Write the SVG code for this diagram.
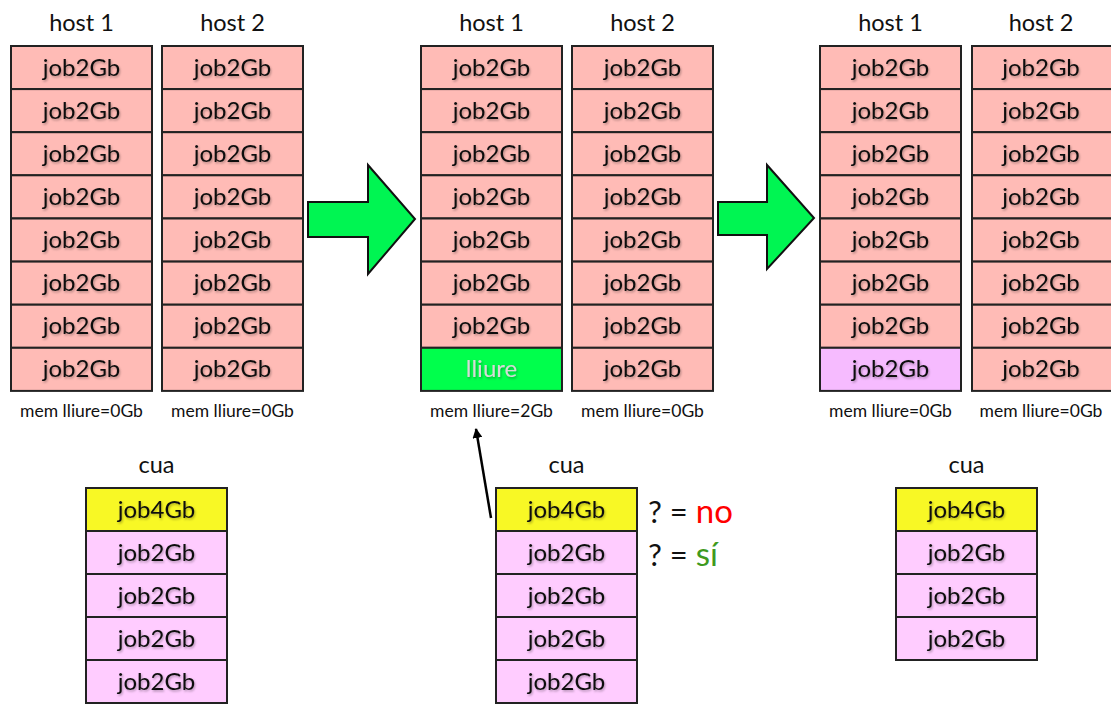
<svg xmlns="http://www.w3.org/2000/svg" width="1111" height="705" viewBox="0 0 1111 705">
<defs>
<filter id="sh" x="-10%" y="-20%" width="130%" height="150%">
<feDropShadow dx="1" dy="1.5" stdDeviation="1.2" flood-color="#000" flood-opacity="0.3"/>
</filter>
<marker id="ah" viewBox="0 0 10 10" refX="9" refY="5" markerWidth="10" markerHeight="10" markerUnits="userSpaceOnUse" orient="auto">
<path d="M0,0 L10,5 L0,10 z" fill="#000"/>
</marker>
</defs>
<style>
.c rect{stroke:#222;stroke-width:2}
.r{fill:#FFBBB6}
.q{fill:#FFCCFF}
.y{fill:#F8F825}
.v{fill:#F6BBFF}
.g{fill:#00FF4C}
.t{font-family:Lato,"Open Sans",sans-serif;font-size:24px;fill:#111;text-anchor:middle;filter:url(#sh)}
.tl{fill:#D8D8D8}
.h{font-family:Lato,"Open Sans",sans-serif;font-size:23.5px;fill:#111;text-anchor:middle}
.m{font-family:Lato,"Open Sans",sans-serif;font-size:17.5px;fill:#111;text-anchor:middle}
.big{font-family:Lato,"Open Sans",sans-serif;font-size:31px;fill:#111}
.arr{fill:#00F552;stroke:#111;stroke-width:2;stroke-linejoin:miter}
</style>

<!-- labels -->
<g id="labels">
<text class="h" x="81.5" y="31">host 1</text>
<text class="h" x="232.5" y="31">host 2</text>
<text class="h" x="491.5" y="31">host 1</text>
<text class="h" x="642.5" y="31">host 2</text>
<text class="h" x="890.5" y="31">host 1</text>
<text class="h" x="1041" y="31">host 2</text>
<text class="m" x="81.5" y="417">mem lliure=0Gb</text>
<text class="m" x="232.5" y="417">mem lliure=0Gb</text>
<text class="m" x="491.5" y="417">mem lliure=2Gb</text>
<text class="m" x="642.5" y="417">mem lliure=0Gb</text>
<text class="m" x="890.5" y="417">mem lliure=0Gb</text>
<text class="m" x="1041" y="417">mem lliure=0Gb</text>
<text class="h" x="156.5" y="473">cua</text>
<text class="h" x="566.5" y="473">cua</text>
<text class="h" x="966.5" y="473">cua</text>
</g>

<!-- state 1 host 1 -->
<g id="s1h1" class="c">
<rect class="r" x="11" y="46" width="141" height="43.1"/><text class="t" x="81.5" y="75.5">job2Gb</text>
<rect class="r" x="11" y="89.1" width="141" height="43.1"/><text class="t" x="81.5" y="118.6">job2Gb</text>
<rect class="r" x="11" y="132.2" width="141" height="43.1"/><text class="t" x="81.5" y="161.7">job2Gb</text>
<rect class="r" x="11" y="175.3" width="141" height="43.1"/><text class="t" x="81.5" y="204.8">job2Gb</text>
<rect class="r" x="11" y="218.5" width="141" height="43.1"/><text class="t" x="81.5" y="248">job2Gb</text>
<rect class="r" x="11" y="261.6" width="141" height="43.1"/><text class="t" x="81.5" y="291.1">job2Gb</text>
<rect class="r" x="11" y="304.7" width="141" height="43.1"/><text class="t" x="81.5" y="334.2">job2Gb</text>
<rect class="r" x="11" y="347.8" width="141" height="43.1"/><text class="t" x="81.5" y="377.3">job2Gb</text>
</g>
<!-- state 1 host 2 -->
<g id="s1h2" class="c">
<rect class="r" x="162" y="46" width="141" height="43.1"/><text class="t" x="232.5" y="75.5">job2Gb</text>
<rect class="r" x="162" y="89.1" width="141" height="43.1"/><text class="t" x="232.5" y="118.6">job2Gb</text>
<rect class="r" x="162" y="132.2" width="141" height="43.1"/><text class="t" x="232.5" y="161.7">job2Gb</text>
<rect class="r" x="162" y="175.3" width="141" height="43.1"/><text class="t" x="232.5" y="204.8">job2Gb</text>
<rect class="r" x="162" y="218.5" width="141" height="43.1"/><text class="t" x="232.5" y="248">job2Gb</text>
<rect class="r" x="162" y="261.6" width="141" height="43.1"/><text class="t" x="232.5" y="291.1">job2Gb</text>
<rect class="r" x="162" y="304.7" width="141" height="43.1"/><text class="t" x="232.5" y="334.2">job2Gb</text>
<rect class="r" x="162" y="347.8" width="141" height="43.1"/><text class="t" x="232.5" y="377.3">job2Gb</text>
</g>
<!-- state 2 host 1 -->
<g id="s2h1" class="c">
<rect class="r" x="421" y="46" width="141" height="43.1"/><text class="t" x="491.5" y="75.5">job2Gb</text>
<rect class="r" x="421" y="89.1" width="141" height="43.1"/><text class="t" x="491.5" y="118.6">job2Gb</text>
<rect class="r" x="421" y="132.2" width="141" height="43.1"/><text class="t" x="491.5" y="161.7">job2Gb</text>
<rect class="r" x="421" y="175.3" width="141" height="43.1"/><text class="t" x="491.5" y="204.8">job2Gb</text>
<rect class="r" x="421" y="218.5" width="141" height="43.1"/><text class="t" x="491.5" y="248">job2Gb</text>
<rect class="r" x="421" y="261.6" width="141" height="43.1"/><text class="t" x="491.5" y="291.1">job2Gb</text>
<rect class="r" x="421" y="304.7" width="141" height="43.1"/><text class="t" x="491.5" y="334.2">job2Gb</text>
<rect class="g" x="421" y="347.8" width="141" height="43.1"/><text class="t tl" x="491.5" y="377.3">lliure</text>
</g>
<!-- state 2 host 2 -->
<g id="s2h2" class="c">
<rect class="r" x="572" y="46" width="141" height="43.1"/><text class="t" x="642.5" y="75.5">job2Gb</text>
<rect class="r" x="572" y="89.1" width="141" height="43.1"/><text class="t" x="642.5" y="118.6">job2Gb</text>
<rect class="r" x="572" y="132.2" width="141" height="43.1"/><text class="t" x="642.5" y="161.7">job2Gb</text>
<rect class="r" x="572" y="175.3" width="141" height="43.1"/><text class="t" x="642.5" y="204.8">job2Gb</text>
<rect class="r" x="572" y="218.5" width="141" height="43.1"/><text class="t" x="642.5" y="248">job2Gb</text>
<rect class="r" x="572" y="261.6" width="141" height="43.1"/><text class="t" x="642.5" y="291.1">job2Gb</text>
<rect class="r" x="572" y="304.7" width="141" height="43.1"/><text class="t" x="642.5" y="334.2">job2Gb</text>
<rect class="r" x="572" y="347.8" width="141" height="43.1"/><text class="t" x="642.5" y="377.3">job2Gb</text>
</g>
<!-- state 3 host 1 -->
<g id="s3h1" class="c">
<rect class="r" x="820" y="46" width="141" height="43.1"/><text class="t" x="890.5" y="75.5">job2Gb</text>
<rect class="r" x="820" y="89.1" width="141" height="43.1"/><text class="t" x="890.5" y="118.6">job2Gb</text>
<rect class="r" x="820" y="132.2" width="141" height="43.1"/><text class="t" x="890.5" y="161.7">job2Gb</text>
<rect class="r" x="820" y="175.3" width="141" height="43.1"/><text class="t" x="890.5" y="204.8">job2Gb</text>
<rect class="r" x="820" y="218.5" width="141" height="43.1"/><text class="t" x="890.5" y="248">job2Gb</text>
<rect class="r" x="820" y="261.6" width="141" height="43.1"/><text class="t" x="890.5" y="291.1">job2Gb</text>
<rect class="r" x="820" y="304.7" width="141" height="43.1"/><text class="t" x="890.5" y="334.2">job2Gb</text>
<rect class="v" x="820" y="347.8" width="141" height="43.1"/><text class="t" x="890.5" y="377.3">job2Gb</text>
</g>
<!-- state 3 host 2 -->
<g id="s3h2" class="c">
<rect class="r" x="972" y="46" width="141" height="43.1"/><text class="t" x="1041" y="75.5">job2Gb</text>
<rect class="r" x="972" y="89.1" width="141" height="43.1"/><text class="t" x="1041" y="118.6">job2Gb</text>
<rect class="r" x="972" y="132.2" width="141" height="43.1"/><text class="t" x="1041" y="161.7">job2Gb</text>
<rect class="r" x="972" y="175.3" width="141" height="43.1"/><text class="t" x="1041" y="204.8">job2Gb</text>
<rect class="r" x="972" y="218.5" width="141" height="43.1"/><text class="t" x="1041" y="248">job2Gb</text>
<rect class="r" x="972" y="261.6" width="141" height="43.1"/><text class="t" x="1041" y="291.1">job2Gb</text>
<rect class="r" x="972" y="304.7" width="141" height="43.1"/><text class="t" x="1041" y="334.2">job2Gb</text>
<rect class="r" x="972" y="347.8" width="141" height="43.1"/><text class="t" x="1041" y="377.3">job2Gb</text>
</g>

<!-- queues -->
<g id="q1" class="c">
<rect class="y" x="86" y="488" width="141" height="43"/><text class="t" x="156.5" y="517.5">job4Gb</text>
<rect class="q" x="86" y="531" width="141" height="43"/><text class="t" x="156.5" y="560.5">job2Gb</text>
<rect class="q" x="86" y="574" width="141" height="43"/><text class="t" x="156.5" y="603.5">job2Gb</text>
<rect class="q" x="86" y="617" width="141" height="43"/><text class="t" x="156.5" y="646.5">job2Gb</text>
<rect class="q" x="86" y="660" width="141" height="43"/><text class="t" x="156.5" y="689.5">job2Gb</text>
</g>
<g id="q2" class="c">
<rect class="y" x="496" y="488" width="141" height="43"/><text class="t" x="566.5" y="517.5">job4Gb</text>
<rect class="q" x="496" y="531" width="141" height="43"/><text class="t" x="566.5" y="560.5">job2Gb</text>
<rect class="q" x="496" y="574" width="141" height="43"/><text class="t" x="566.5" y="603.5">job2Gb</text>
<rect class="q" x="496" y="617" width="141" height="43"/><text class="t" x="566.5" y="646.5">job2Gb</text>
<rect class="q" x="496" y="660" width="141" height="43"/><text class="t" x="566.5" y="689.5">job2Gb</text>
</g>
<g id="q3" class="c">
<rect class="y" x="896" y="488" width="141" height="43"/><text class="t" x="966.5" y="517.5">job4Gb</text>
<rect class="q" x="896" y="531" width="141" height="43"/><text class="t" x="966.5" y="560.5">job2Gb</text>
<rect class="q" x="896" y="574" width="141" height="43"/><text class="t" x="966.5" y="603.5">job2Gb</text>
<rect class="q" x="896" y="617" width="141" height="43"/><text class="t" x="966.5" y="646.5">job2Gb</text>
</g>

<!-- answers -->
<g id="answers">
<text class="big" x="648" y="523">? = <tspan fill="#FF0000" font-size="33">no</tspan></text>
<text class="big" x="648" y="566">? = <tspan fill="#3E9A1E" font-size="33">sí</tspan></text>
</g>

<!-- connectors -->
<g id="connectors">
<path class="arr" d="M308,202 L368,202 L368,165 L415,219 L368,274 L368,237 L308,237 Z"/>
<path class="arr" d="M718,202 L767,202 L767,165 L814,218 L767,269 L767,235 L718,235 Z"/>
<line x1="491" y1="518" x2="476" y2="429" stroke="#000" stroke-width="2.5" marker-end="url(#ah)"/>
</g>
</svg>
